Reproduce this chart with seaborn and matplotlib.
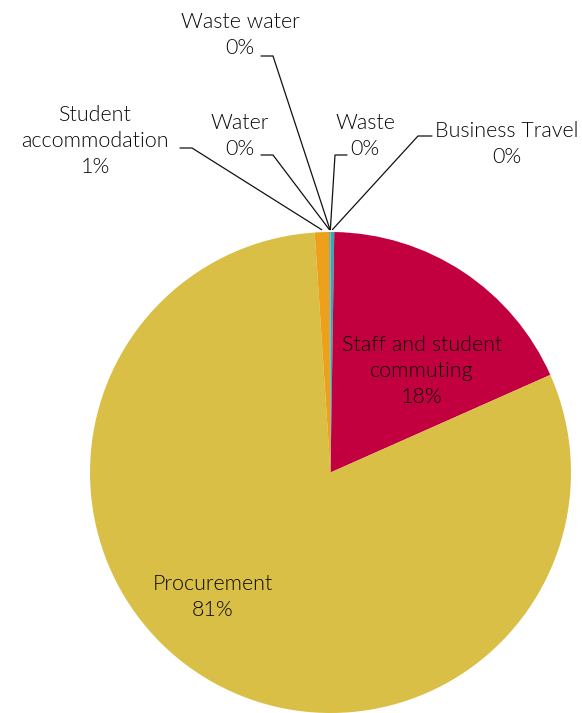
import numpy as np
import matplotlib
matplotlib.use("Agg")
import matplotlib.pyplot as plt
import seaborn as sns

# Emission sources (share of total footprint, %)
categories = ["Business Travel", "Staff and student\ncommuting", "Procurement",
              "Student\naccommodation", "Water", "Waste water", "Waste"]
shares = [0.25, 18.1, 80.6, 0.95, 0.05, 0.03, 0.02]
colors = ["#3BA6B4", "#C20040", "#D9BF45", "#EDA01A", "#7F7F7F", "#5B9BD5", "#70AD47"]

sns.set_theme(style="white")
plt.rcParams["font.family"] = ["Lato", "DejaVu Sans"]

W, H = 582, 713
fig = plt.figure(figsize=(W / 100, H / 100), dpi=100)
ax = fig.add_axes([0, 0, 1, 1])

# pie geometry in pixels
cx, cy, R = 330.5, 472.5, 240.5


def px(x, y):
    return ((x - cx) / R, (cy - y) / R)


wedges, _ = ax.pie(shares, colors=colors, startangle=90, counterclock=False,
                   radius=1.0, center=(0, 0),
                   wedgeprops=dict(linewidth=0, edgecolor="none"))

ax.set_xlim((0 - cx) / R, (W - cx) / R)
ax.set_ylim((cy - H) / R, cy / R)
ax.set_aspect("auto")
ax.axis("off")

txt = dict(fontsize=15.5, color="#080808", ha="center", va="center",
           linespacing=1.35, fontweight=300)


def label(i):
    return f"{categories[i]}\n{shares[i]:.0f}%"


# labels placed inside the two large wedges
ax.text(*px(422, 371), label(1), **txt)
ax.text(*px(213, 597), label(2), **txt)

# leader-line labels for the small wedges: text centre, elbow, end of tick
callouts = {
    0: ((507, 144), (418, 136), (432, 136)),
    3: ((95, 141), (192, 148), (180, 148)),
    4: ((240, 136), (273, 155), (261, 155)),
    5: ((240, 35), (273, 56), (261, 56)),
    6: ((365, 136), (335, 155), (347, 155)),
}
for i, (tpos, elbow, tick) in callouts.items():
    w = wedges[i]
    ang = np.deg2rad((w.theta1 + w.theta2) / 2)
    rim = (np.cos(ang) * 1.01, np.sin(ang) * 1.01)
    e = px(*elbow)
    t = px(*tick)
    ax.plot([rim[0], e[0], t[0]], [rim[1], e[1], t[1]], color="#111111",
            lw=0.9, solid_joinstyle="miter")
    ax.text(*px(*tpos), label(i), **txt)

fig.savefig("out.png", dpi=100)
